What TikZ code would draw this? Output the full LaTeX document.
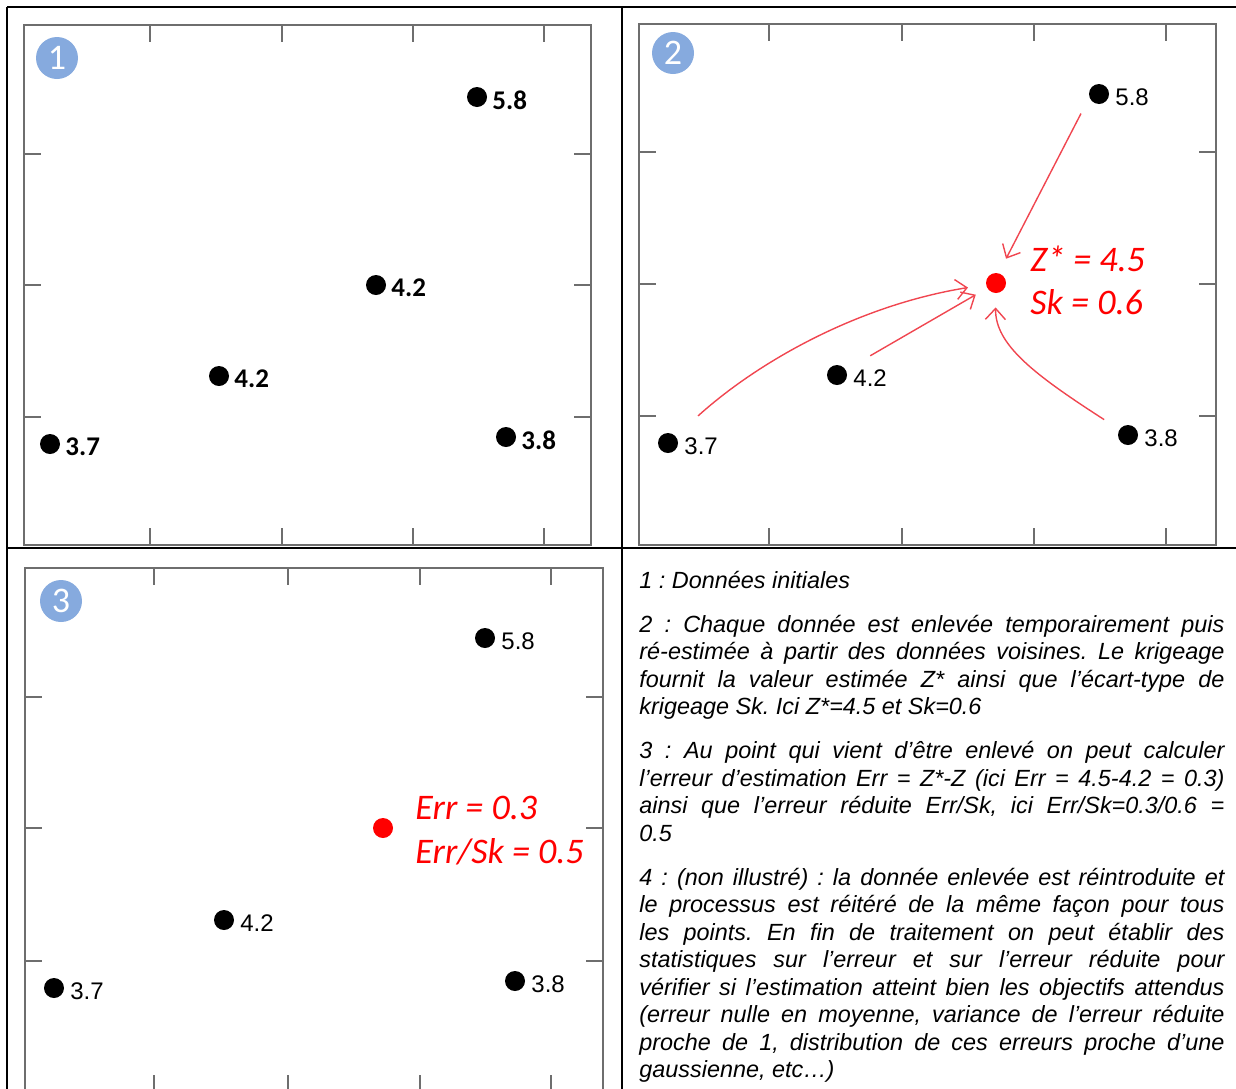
\documentclass[tikz,border=0pt]{standalone}
\usepackage{fontspec}
\setmainfont{Liberation Sans}
\newfontfamily\calib{Carlito}
\usetikzlibrary{arrows.meta}
\definecolor{framegray}{RGB}{110,110,110}
\definecolor{badgeblue}{RGB}{134,170,222}
\definecolor{arrred}{RGB}{240,70,80}
\begin{document}
\frenchspacing
\begin{tikzpicture}[x=0.5pt,y=-0.5pt,
  gridline/.style={black, line width=1.1pt},
  framebox/.style={framegray, line width=1pt},
  tickline/.style={framegray, line width=1pt},
  dot/.style={circle, fill=black, minimum size=10pt, inner sep=0pt},
  reddot/.style={circle, fill=red, minimum size=10pt, inner sep=0pt},
  badge/.style={circle, fill=badgeblue, minimum size=21pt, inner sep=0pt, text=white, font=\calib\fontsize{18}{18}\selectfont},
  boldlbl/.style={anchor=west, inner sep=0pt, font=\calib\bfseries\fontsize{13.5}{14}\selectfont},
  lbl/.style={anchor=west, inner sep=0pt, font=\fontsize{12}{14}\selectfont},
  redtxt/.style={anchor=base west, inner sep=0pt, text=red, font=\calib\itshape\fontsize{18}{20}\selectfont},
  arr/.style={arrred, line width=0.7pt, -{Straight Barb[length=5.5pt,width=10pt]}},
]
\useasboundingbox (0,0) rectangle (1236,1088);
\clip (0,0) rectangle (1236,1088);

% table grid
\draw[gridline] (7,7) -- (1240,7);
\draw[gridline] (7,7) -- (7,1095);
\draw[gridline] (622,7) -- (622,1095);
\draw[gridline] (7,548) -- (1240,548);

% panel 1 frame
\draw[framebox] (24,25) rectangle (591,545);
\foreach \x in {150,282,413,544} {\draw[tickline] (\x,25) -- (\x,42); \draw[tickline] (\x,545) -- (\x,528);}
\foreach \y in {154,285,417} {\draw[tickline] (24,\y) -- (41,\y); \draw[tickline] (591,\y) -- (574,\y);}
% panel 2 frame
\draw[framebox] (639,24) rectangle (1216,545);
\foreach \x in {769,902,1034,1166} {\draw[tickline] (\x,24) -- (\x,41); \draw[tickline] (\x,545) -- (\x,528);}
\foreach \y in {152,284,416} {\draw[tickline] (639,\y) -- (656,\y); \draw[tickline] (1216,\y) -- (1199,\y);}
% panel 3 frame
\draw[framebox] (25,568) rectangle (603,1092);
\foreach \x in {154,288,420,551} {\draw[tickline] (\x,568) -- (\x,585); \draw[tickline] (\x,1092) -- (\x,1075);}
\foreach \y in {697,828,961} {\draw[tickline] (25,\y) -- (42,\y); \draw[tickline] (603,\y) -- (586,\y);}

% badges
\node[badge] (b1) at (57,58) {1};
\node[badge] (b2) at (673,53) {2};
\node[badge] (b3) at (61,601) {3};

% panel 1 points
\node[dot] (p1a) at (477,97) {};
\node[dot] (p1b) at (376,285) {};
\node[dot] (p1c) at (219,376) {};
\node[dot] (p1d) at (50,444) {};
\node[dot] (p1e) at (506,437) {};
\node[boldlbl] (l1a) at (492,100) {5.8};
\node[boldlbl] (l1b) at (391,288) {4.2};
\node[boldlbl] (l1c) at (234,379) {4.2};
\node[boldlbl] (l1d) at (65,447) {3.7};
\node[boldlbl] (l1e) at (521,440) {3.8};

% panel 2 points
\node[dot] (p2a) at (1099,94) {};
\node[dot] (p2b) at (837,375) {};
\node[dot] (p2c) at (668,443) {};
\node[dot] (p2d) at (1128,435) {};
\node[reddot] (p2z) at (996,283) {};
\node[lbl] (l2a) at (1115,97) {5.8};
\node[lbl] (l2b) at (853,378) {4.2};
\node[lbl] (l2c) at (684,446) {3.7};
\node[lbl] (l2d) at (1144,438) {3.8};
\node[redtxt] (r2a) at (1030,271) {Z* = 4.5};
\node[redtxt] (r2b) at (1030,314) {Sk = 0.6};
\draw[arr, shorten <=15pt, shorten >=9pt] (p2c) .. controls (760,360) and (860,305) .. (p2z);
\draw[arr, shorten <=14pt, shorten >=6.5pt] (p2b) -- (p2z);
\draw[arr, shorten <=9pt, shorten >=8pt] (p2a.200) -- (p2z.75);
\draw[arr, shorten <=9pt, shorten >=7pt] (p2d) .. controls (1035,375) and (995,345) .. (p2z);

% panel 3 points
\node[dot] (p3a) at (485,638) {};
\node[dot] (p3b) at (224,920) {};
\node[dot] (p3c) at (54,988) {};
\node[dot] (p3d) at (515,981) {};
\node[reddot] (p3z) at (383,828) {};
\node[lbl] (l3a) at (501,641) {5.8};
\node[lbl] (l3b) at (240,923) {4.2};
\node[lbl] (l3c) at (70,991) {3.7};
\node[lbl] (l3d) at (531,984) {3.8};
\node[redtxt] (r3a) at (415,819) {Err = 0.3};
\node[redtxt] (r3b) at (415,863) {Err/Sk = 0.5};

% explanatory text
\node[anchor=north west, inner sep=0pt, text width=292.5pt, align=justify,
      font=\itshape\fontsize{11.7}{13.75}\selectfont] (txt) at (639,568) {%
\frenchspacing\setlength{\parskip}{8.25pt}\rule{0pt}{10pt}1 : Données initiales\par
2 : Chaque donnée est enlevée temporairement puis\linebreak
ré-estimée à partir des données voisines. Le krigeage\linebreak
fournit la valeur estimée Z* ainsi que l’écart-type de\linebreak
krigeage Sk. Ici Z*=4.5 et Sk=0.6\par
3 : Au point qui vient d’être enlevé on peut calculer\linebreak
l’erreur d’estimation Err = Z*-Z (ici Err = 4.5-4.2 = 0.3)\linebreak
ainsi que l’erreur réduite Err/Sk, ici Err/Sk=0.3/0.6 =\linebreak
0.5\par
4 : (non illustré) : la donnée enlevée est réintroduite et\linebreak
le processus est réitéré de la même façon pour tous\linebreak
les points. En fin de traitement on peut établir des\linebreak
statistiques sur l’erreur et sur l’erreur réduite pour\linebreak
vérifier si l’estimation atteint bien les objectifs attendus\linebreak
(erreur nulle en moyenne, variance de l’erreur réduite\linebreak
proche de 1, distribution de ces erreurs proche d’une\linebreak
gaussienne, etc…)};
\end{tikzpicture}
\end{document}
